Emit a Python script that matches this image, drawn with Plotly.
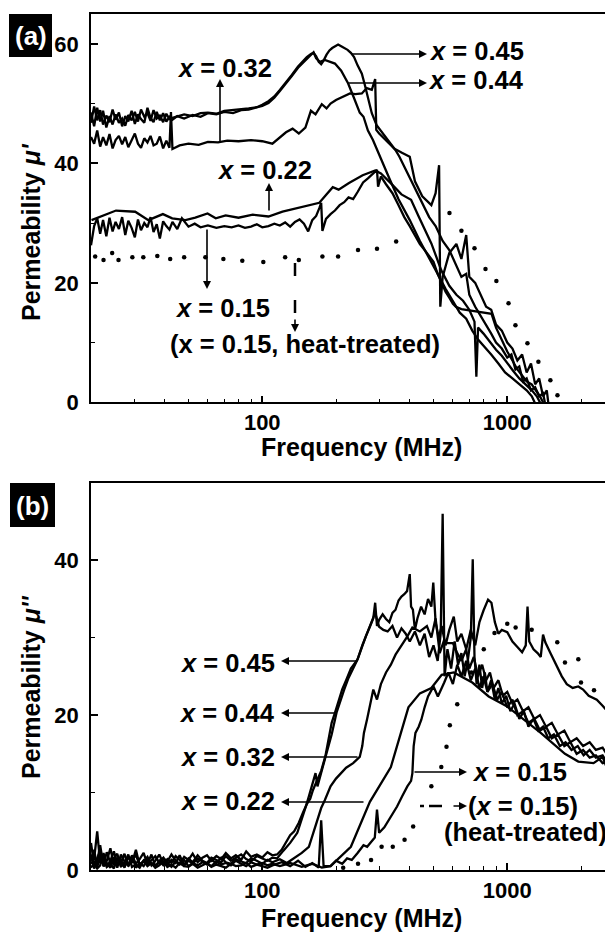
import math
import plotly.graph_objects as go

# ---------------- data (top panel: real part mu') ----------------
# common low-frequency grid for the noisy part of the mu' curves
TF = [20, 20.6, 21.2, 21.8, 22.4, 23.1, 23.8, 24.5, 25.2, 26, 26.8, 27.6, 28.4, 29.3,
      30.2, 31.1, 32, 33, 34, 35, 36, 37.1, 38.2, 39.4, 40.6, 41.8]

re45_f = TF + [43, 45, 48, 52, 56, 60, 65, 70, 76, 82, 88, 95, 100, 106, 112, 118, 125, 132, 140, 146,
               152, 158, 162, 166, 170, 174, 178, 183, 188, 193, 198, 204, 210, 216, 223, 230, 237, 245, 255, 262,
               270, 280, 293, 311, 330, 350, 363, 390, 420, 450, 480, 510, 545, 580, 620, 650, 680,
               700, 740, 780, 820, 860, 900, 950, 1000, 1040, 1080, 1120, 1160, 1200, 1250, 1300, 1350, 1400, 1440]
re45_v = [48.5, 46.2, 49.3, 47.0, 48.8, 46.0, 47.9, 46.5, 48.2, 46.8, 47.5, 46.3, 48.1, 47.2, 48.6, 47.0,
          49.0, 47.8, 48.4, 47.1, 48.9, 47.5, 48.0, 46.9, 48.3, 47.4,
          47.6, 47.8, 48.2, 47.9, 48.4, 48.5, 48.3, 48.8, 48.9, 49.0,
          49.2, 49.4, 49.8, 50.4, 51.2, 52.3, 53.5, 54.8, 56.2, 57.0,
          57.8, 58.3, 58.5, 57.9, 57.0, 56.6, 57.2, 58.2, 58.9, 59.3,
          59.6, 59.9, 59.6, 59.3, 59.0, 58.5, 57.8, 56.4, 55.0, 53.2,
          51.0, 48.4, 46.4, 45.0, 43.5, 42.2, 41.1,
          38.5, 36.0, 33.5, 31.0, 29.5, 27.0, 25.5, 23.0, 21.0, 21.5,
          18.0, 16.0, 14.5, 13.0, 11.5, 10.0, 9.0, 7.5, 8.0, 5.5,
          6.0, 3.5, 4.0, 2.0, 2.5, 1.0, 1.5, -1.0]

re44_f = TF + [43, 45, 48, 52, 56, 60, 65, 70, 76, 82, 88, 95, 100, 106, 112, 118, 125, 132, 140, 146,
               152, 158, 162, 166, 172, 180, 190, 198, 210, 224, 236, 250, 259, 270, 283, 302,
               330, 360, 400, 440, 480, 520, 560, 600, 640, 680, 720, 760, 800, 860, 920, 980,
               1050, 1120, 1200, 1260, 1310]
re44_v = [46.8, 49.5, 47.2, 48.9, 46.5, 48.0, 46.9, 49.0, 47.3, 48.5, 46.2, 47.9, 47.0, 48.8, 46.6, 48.2,
          47.4, 46.8, 49.3, 47.6, 46.9, 48.6, 47.2, 48.4, 47.0, 47.8,
          47.3, 47.9, 47.5, 48.1, 47.8, 48.4, 48.2, 48.6, 48.4, 48.9,
          49.0, 49.3, 49.6, 50.1, 51.0, 52.1, 53.3, 54.6, 56.0, 56.8,
          57.5, 58.2, 58.6, 57.6, 57.0, 57.3, 56.9, 56.7, 55.5, 53.4,
          51.1, 48.5, 47.8, 45.5, 43.9, 41.1,
          37.5, 34.0, 30.5, 27.0, 24.0, 21.5, 19.0, 17.0, 15.0, 14.0,
          12.0, 10.5, 9.5, 8.0, 6.5, 5.0, 4.0, 3.0, 2.0, 1.0, -0.5]

re32_f = TF + [42.4, 43, 46, 50, 55, 60, 66, 72, 80, 90, 100, 110, 118, 125, 133, 141, 150, 158, 165, 175,
               183, 190, 200, 212, 228, 240, 255, 267, 280, 289, 292, 300, 320, 345, 370, 400, 420, 450, 490, 510,
               527, 533, 545, 580, 620, 650, 680, 700, 740, 780, 820, 860, 900, 950, 1000, 1050, 1100, 1150,
               1200, 1250, 1300, 1350, 1400, 1450, 1480]
re32_v = [44.4, 43.3, 45.5, 42.8, 44.4, 43.0, 44.9, 42.5, 43.9, 44.6, 43.2, 44.4, 42.7, 43.9, 45.0, 43.3,
          42.6, 44.2, 43.5, 44.6, 43.0, 43.3, 44.5, 42.5, 43.8, 42.6,
          48.6, 42.4, 43.0, 43.3, 43.1, 43.6, 43.5, 43.8, 43.7, 43.9,
          43.7, 43.3, 44.4, 45.2, 45.8, 45.0, 46.0, 48.8, 48.2, 49.9,
          49.2, 50.0, 50.6, 51.1, 51.7, 51.6, 51.7, 52.6, 52.3, 54.1,
          45.6, 45.0, 43.8, 42.5, 41.8, 41.1, 37.0, 34.5, 33.0, 35.0,
          39.7, 16.0, 21.0, 25.0, 26.5, 24.0, 28.0, 21.0, 20.0, 18.0,
          16.0, 15.5, 13.0, 12.0, 10.0, 9.0, 7.0, 8.0, 5.0, 6.5,
          3.0, 4.0, 1.0, 2.0, -1.0]

re22_f = [20.1, 22.9, 25.3, 30.3, 34.3, 39.3, 42.9, 48.6, 53.3, 59.8, 64.6, 70.9, 80.0, 91.5, 106, 121,
          141, 171, 182, 194, 205, 226, 257, 289, 305, 320, 336, 370, 405, 435, 470, 490, 538, 580,
          620, 660, 700, 735, 748, 760, 800, 850, 900, 950, 1000, 1060, 1120, 1200, 1260, 1320, 1380]
re22_v = [30.5, 31.4, 32.1, 31.9, 30.5, 31.5, 30.8, 30.5, 30.9, 31.6, 30.8, 31.3, 30.9, 31.4, 31.1, 31.9,
          32.6, 33.4, 34.7, 36.0, 35.6, 36.7, 38.0, 38.8, 38.3, 37.5, 36.6, 34.8, 33.9, 31.1, 28.0, 26.6,
          22.1, 19.5, 18.0, 17.0, 15.5, 13.5, 4.3, 12.5, 11.5, 10.0, 8.8, 7.8, 6.5, 5.2, 4.0, 2.8, 2.0,
          1.0, -0.5]

re15_f = TF + [43, 45, 47, 50, 53, 56, 60, 65, 70, 75, 80, 85, 90, 95, 100, 106, 112, 118, 124, 130,
               136, 142, 148, 154, 160, 166, 171, 174, 176, 182, 190, 198, 207, 216, 225, 235, 245, 258, 270, 282,
               294, 297, 305, 320, 340, 360, 380, 400, 420, 440, 460, 480, 500, 520, 540, 560, 580, 600, 617, 650,
               700, 760, 810, 863, 900, 950, 1000, 1050, 1100, 1150, 1200, 1258, 1310, 1360, 1420]
re15_v = [26.3, 29.5, 30.8, 28.2, 30.5, 27.8, 30.9, 28.6, 30.2, 29.0, 31.0, 28.0, 30.4, 29.2, 27.6, 30.6,
          28.8, 30.0, 29.3, 31.0, 28.5, 29.8, 27.4, 30.3, 29.5, 28.9,
          30.2, 29.0, 30.8, 29.4, 29.9, 29.3, 29.6, 29.2, 29.5, 29.3,
          29.6, 29.2, 29.4, 29.8, 29.3, 29.5, 29.9, 29.6, 30.1, 29.4,
          30.2, 30.6, 29.9, 28.6, 30.5, 31.2, 32.5, 33.4, 28.7, 30.7,
          31.5, 32.1, 33.0, 33.5, 34.3, 34.0, 35.2, 36.8, 37.5, 38.3,
          38.9, 36.1, 37.8, 36.5, 35.0, 33.0, 31.0, 29.5, 28.0, 26.5,
          25.5, 24.5, 23.5, 21.5, 20.0, 18.5, 17.5, 16.5, 16.0, 15.6,
          15.4, 15.2, 15.0, 14.8, 12.5, 10.5, 8.5, 7.0, 5.5, 4.5,
          3.5, 3.0, 2.0, 1.0, -0.5]

# heat-treated x = 0.15, drawn as dots
reht_f = [20.8, 22.5, 24.4, 25.9, 29.5, 32.7, 37.3, 42.1, 48.0, 58.6, 69.4, 82.9, 101, 124, 141, 176,
          204, 246, 294, 352, 581, 650, 735, 815, 903, 1012, 1080, 1209, 1340, 1500, 1603]
reht_v = [24.4, 23.8, 25.0, 23.8, 24.3, 24.3, 24.5, 24.0, 24.3, 24.3, 24.0, 23.7, 23.5, 24.3, 23.8, 24.4,
          24.4, 25.5, 25.7, 26.9, 31.7, 28.7, 25.8, 22.3, 20.3, 16.6, 12.9, 9.9, 6.8, 3.7, 1.2]

# ---------------- data (bottom panel: imaginary part mu'') ----------------
NF = [20, 20.6, 21.2, 21.8, 22.5, 23.2, 24, 24.8, 25.6, 26.5, 27.4, 28.4, 29.4, 30.5, 31.6, 32.8, 34,
      35.3, 36.6, 38, 39.5, 41, 42.6, 44.3, 46, 48, 50, 52, 54.5, 57, 59.5, 62, 65, 68, 71, 74.5, 78,
      82, 86, 90, 95, 100, 105, 110]

im45_f = NF + [115, 120, 124, 130, 135, 141, 147, 152, 157, 161, 167, 174, 181, 186, 192, 198, 205, 212,
               220, 230, 245, 255, 265, 275, 284, 289, 294, 300, 310, 320, 330, 340, 350, 360, 370, 380,
               390, 400, 405, 412, 420, 430, 445, 460, 475, 490, 499, 510, 525, 540, 560, 580, 605, 625,
               650, 680, 710, 740, 770, 800, 835, 862, 890, 920, 950, 1000, 1050, 1100, 1150, 1190, 1210,
               1230, 1280, 1330, 1370, 1400, 1430, 1500, 1580, 1670, 1750, 1850, 1950, 2040, 2150, 2320,
               2450, 2530, 2620, 2750]
im45_v = [1.2, 2.6, 0.4, 1.8, 0.7, 2.3, 0.9, 1.6, 0.3, 2.0, 1.1, 0.6, 1.9, 0.8, 1.4, 2.2, 0.7, 1.3, 1.8,
          0.9, 1.5, 1.1, 2.0, 1.2, 0.8, 1.7, 1.3, 2.1, 1.0, 1.6, 1.9, 1.2, 1.8, 1.4, 2.2, 1.5, 1.9, 1.3,
          2.4, 1.7, 2.0, 1.6, 2.3, 1.9,
          2.0, 2.6, 3.4, 4.5, 5.0, 6.1, 7.5, 8.5, 9.2, 10.3,
          11.5, 12.8, 14.7, 16.5, 19.0, 20.3, 21.8, 23.3, 24.5, 26.0,
          27.2, 28.8, 30.2, 31.4, 32.5, 34.5, 31.5, 32.3, 33.0, 32.4,
          32.0, 33.2, 33.6, 34.8, 35.3, 35.6, 36.0, 38.2, 34.0, 33.6,
          31.0, 32.5, 34.0, 33.0, 35.0, 34.0, 37.1, 32.0, 30.0, 31.5,
          29.0, 31.0, 32.7, 29.5, 30.5, 28.5, 31.0, 29.0, 32.0, 33.5,
          34.9, 34.5, 32.0, 30.5, 31.0, 30.7, 29.5, 28.8, 28.1, 29.0,
          34.0, 29.5, 28.5, 28.0, 27.5, 30.4, 29.4, 28.0, 26.5, 25.0,
          24.0, 23.5, 23.7, 23.3, 22.5, 22.0, 21.2, 20.7, 19.5, 18.0]

im44_f = NF + [115, 122, 130, 139, 145, 150, 155, 161, 165, 168, 174, 180, 186, 192, 201, 208, 216, 225,
               234, 245, 256, 268, 280, 289, 300, 312, 325, 340, 355, 370, 385, 400, 420, 440, 460, 480,
               500, 520, 535, 545, 555, 570, 590, 610, 630, 650, 670, 690, 710, 723, 735, 750, 770, 790,
               810, 830, 860, 890, 920, 950, 990, 1030, 1070, 1120, 1170, 1220, 1280, 1340, 1400, 1470,
               1550, 1640, 1730, 1830, 1940, 2050, 2170, 2300, 2450, 2600, 2750]
im44_v = [3.5, 0.6, 1.5, 2.4, 0.5, 1.2, 2.8, 0.6, 1.4, 0.9, 2.1, 0.5, 1.3, 1.9, 0.7, 1.1, 1.7, 0.6, 1.2,
          2.0, 0.8, 1.4, 0.9, 1.8, 1.3, 0.7, 1.5, 1.0, 1.9, 1.2, 0.9, 1.6, 1.3, 1.0, 1.8, 1.2, 1.6, 2.0,
          1.4, 1.1, 1.8, 1.5, 1.2, 1.6,
          1.5, 2.5, 3.5, 4.8, 6.5, 8.0, 9.5, 11.2, 12.5, 10.8,
          12.5, 14.2, 16.0, 17.5, 20.3, 21.8, 23.3, 24.8, 26.0, 27.2,
          29.0, 30.6, 32.0, 33.2, 31.4, 31.0, 30.8, 31.5, 30.0, 31.2,
          30.5, 29.5, 30.8, 29.0, 30.5, 27.5, 29.0, 27.0, 30.5, 46.0,
          25.0, 28.5, 26.0, 29.5, 26.5, 28.0, 25.0, 27.0, 30.0, 40.1,
          27.5, 24.0, 26.5, 23.5, 25.5, 23.0, 24.5, 22.0, 23.5, 21.5,
          22.5, 20.5, 21.5, 19.5, 20.5, 18.5, 19.5, 18.0, 18.5, 17.0,
          17.5, 16.0, 16.5, 15.5, 16.0, 14.8, 15.5, 14.5, 14.8, 13.5, 13.0]

im32_f = NF + [118, 126, 135, 145, 155, 162, 168, 174, 180, 190, 200, 209, 220, 235, 250, 256, 260, 268,
               276, 284, 294, 305, 320, 335, 350, 370, 390, 410, 440, 470, 490, 510, 530, 550, 570, 600,
               625, 650, 680, 700, 730, 760, 790, 820, 850, 880, 920, 960, 1000, 1050, 1100, 1160, 1220,
               1290, 1360, 1440, 1520, 1610, 1710, 1810, 1920, 2040, 2170, 2300, 2450, 2600, 2750]
im32_v = [0.8, 1.4, 5.0, 0.9, 1.6, 0.4, 1.2, 2.4, 0.8, 1.3, 0.3, 1.7, 0.9, 2.6, 0.6, 1.2, 0.8, 2.0, 0.5,
          1.1, 1.6, 0.7, 1.3, 0.9, 1.9, 0.6, 1.2, 0.8, 1.5, 1.1, 0.7, 1.3, 0.9, 1.6, 1.0, 0.8, 1.4, 1.1,
          0.9, 1.5, 1.2, 0.8, 1.3, 1.0,
          1.4, 0.9, 1.5, 2.2, 3.0, 5.0, 6.5, 8.0, 9.0, 10.8,
          11.8, 12.5, 13.2, 13.8, 14.6, 16.0, 17.7, 19.5, 21.5, 23.3,
          22.0, 24.0, 25.5, 26.5, 27.8, 28.9, 30.1, 31.3, 30.8, 31.5,
          30.0, 32.5, 28.0, 29.5, 29.3, 29.3, 28.0, 27.0, 28.5, 26.0,
          27.5, 25.0, 26.5, 24.5, 25.5, 23.5, 24.5, 22.5, 23.0, 21.5,
          22.0, 20.5, 21.0, 19.5, 20.0, 18.5, 19.0, 17.5, 18.0, 16.5,
          17.0, 16.0, 16.5, 15.5, 15.8, 14.5, 14.0]

im22_f = NF + [118, 130, 145, 160, 175, 190, 230, 275, 335, 395, 440, 490, 540, 605, 720, 840, 1000,
               1370, 1720, 1950, 2250, 2450, 2750]
im22_v = [2.0, 0.2, 1.1, 3.2, 0.5, 0.9, 0.3, 1.5, 2.1, 0.4, 1.0, 0.6, 1.8, 0.3, 0.9, 0.5, 1.3, 0.8, 0.4,
          1.2, 0.6, 0.9, 0.4, 1.1, 0.7, 1.3, 0.5, 0.9, 0.6, 1.0, 0.8, 0.5, 1.1, 0.7, 0.9, 0.6, 1.2, 0.8,
          0.5, 1.0, 0.7, 0.9, 0.6, 0.8,
          0.5, 0.9, 0.4, 0.8, 0.3, 0.5, 3.0, 8.8, 13.3, 21.0, 22.8, 23.5, 25.2, 25.5, 24.2, 22.4, 21.1,
          17.7, 15.0, 14.0, 13.8, 14.6, 10.5]

im15_f = NF + [120, 130, 140, 150, 160, 170, 174, 178, 190, 200, 212, 222, 232, 245, 259, 268, 280, 288,
               294, 300, 315, 330, 345, 355, 372, 391, 405, 410, 415, 422, 435, 446, 460, 475, 500, 521,
               553, 575, 600, 625, 650, 680, 710, 740, 770, 800, 830, 870, 910, 950, 1000, 1050, 1100,
               1160, 1220, 1290, 1360, 1440, 1520, 1610, 1710, 1810, 1920, 2040, 2170, 2300, 2450, 2600, 2750]
im15_v = [0.3, 0.9, 0.2, 0.6, 2.2, 0.4, 0.8, 0.2, 1.6, 0.5, 0.8, 2.0, 0.4, 0.7, 0.3, 1.2, 0.5, 0.9, 0.3,
          0.6, 1.1, 0.4, 0.7, 0.3, 0.9, 0.5, 0.4, 0.8, 0.3, 0.6, 0.9, 0.4, 0.7, 0.5, 0.3, 0.8, 0.5, 0.6,
          0.9, 0.4, 0.7, 0.5, 0.3, 0.6,
          1.0, 0.5, 1.2, 0.4, 0.9, 0.3, 6.4, 0.5, 0.5, 1.2,
          0.8, 1.5, 1.3, 2.2, 3.2, 3.0, 3.8, 4.2, 7.8, 4.8,
          5.5, 6.5, 7.5, 8.2, 9.5, 10.8, 11.5, 12.5, 16.0, 17.7,
          18.5, 19.4, 21.0, 22.4, 23.7, 22.4, 24.2, 25.5, 24.0, 26.5,
          25.0, 27.0, 24.5, 26.0, 23.5, 25.0, 23.0, 24.0, 22.0, 23.0,
          21.0, 22.0, 20.0, 20.5, 19.0, 19.5, 18.0, 18.5, 17.0, 17.5,
          16.0, 16.5, 15.0, 15.5, 14.5, 14.8, 13.8, 14.0, 13.5]

imht_f = [214, 246, 278, 307, 341, 381, 413, 490, 538, 565, 583, 625, 714, 802, 887, 1000, 1082, 1258,
          1600, 1720, 1950, 2000, 2260, 2560]
imht_v = [0.3, 0.8, 1.3, 3.0, 3.0, 3.9, 5.6, 10.8, 13.3, 15.9, 18.7, 21.4, 25.5, 28.5, 30.6, 31.8, 31.3,
          31.0, 29.4, 26.8, 27.2, 24.2, 23.2, 20.7]

# ---------------- figure ----------------
# the page body has an 8px margin, so the figure is drawn 8px smaller and
# every position below is given in window pixels
OFF = 8
W, H = 613 - OFF, 934 - OFF
L, T, B = 91 - OFF, 14 - OFF, H - (870 - OFF)
FONT = "Liberation Sans, Arial, sans-serif"


def px(x):
    return (x - OFF - L) / (W - L)


def py(y):
    return (H - B - (y - OFF)) / (H - T - B)


fig = go.Figure()
solid = dict(color="black", width=2.3)
for f, v in [(re45_f, re45_v), (re44_f, re44_v), (re32_f, re32_v), (re22_f, re22_v), (re15_f, re15_v)]:
    fig.add_trace(go.Scatter(x=f, y=v, mode="lines", line=solid, xaxis="x", yaxis="y", showlegend=False))
fig.add_trace(go.Scatter(x=reht_f, y=reht_v, mode="markers", marker=dict(color="black", size=4.5),
                         xaxis="x", yaxis="y", showlegend=False))
for f, v in [(im45_f, im45_v), (im44_f, im44_v), (im32_f, im32_v), (im22_f, im22_v), (im15_f, im15_v)]:
    fig.add_trace(go.Scatter(x=f, y=v, mode="lines", line=solid, xaxis="x2", yaxis="y2", showlegend=False))
fig.add_trace(go.Scatter(x=imht_f, y=imht_v, mode="markers", marker=dict(color="black", size=4.5),
                         xaxis="x2", yaxis="y2", showlegend=False))

xlo = math.log10(20)
xhi = xlo + (W - L) / 245.0
minor_x = [20, 30, 40, 50, 60, 70, 80, 90, 200, 300, 400, 500, 600, 700, 800, 900, 2000]
tickfont = dict(family=FONT, size=22, color="black", weight="bold")


def xaxis(anchor):
    return dict(type="log", range=[xlo, xhi], domain=[0, 1], anchor=anchor,
                tickvals=[100, 1000], ticktext=["100", "1000"],
                ticks="inside", ticklen=7, tickwidth=1.5, tickcolor="black",
                showline=True, linecolor="black", linewidth=1.5, mirror=True,
                showgrid=False, zeroline=False, tickfont=tickfont, ticklabelstandoff=0,
                minor=dict(tickvals=minor_x, ticks="inside", ticklen=4, tickwidth=1.2,
                           tickcolor="black", showgrid=False))


def yaxis(anchor, dom, top, major, minor):
    return dict(range=[0, top], domain=dom, anchor=anchor, tickvals=major,
                ticks="inside", ticklen=7, tickwidth=1.5, tickcolor="black",
                showline=True, linecolor="black", linewidth=1.5,
                showgrid=False, zeroline=False, tickfont=tickfont, ticklabelstandoff=6,
                minor=dict(tickvals=minor, ticks="inside", ticklen=4, tickwidth=1.2,
                           tickcolor="black", showgrid=False))


fig.update_layout(
    width=W, height=H, margin=dict(l=L, r=0, t=T, b=B),
    paper_bgcolor="white", plot_bgcolor="white",
    font=dict(family=FONT, color="black"),
    xaxis=xaxis("y"), yaxis=yaxis("x", [py(402.3), 1], 65, [0, 20, 40, 60], [10, 30, 50]),
    xaxis2=xaxis("y2"), yaxis2=yaxis("x2", [0, py(482.7)], 50, [0, 20, 40], [10, 30]),
)

ann = []


def text(x, y, s, size=25.5, color="black", angle=0):
    ann.append(dict(x=px(x), y=py(y), xref="paper", yref="paper", text=s, showarrow=False,
                    font=dict(family=FONT, size=size, color=color, weight="bold"),
                    xanchor="center", yanchor="middle", textangle=angle))


def arrow(x0, y0, x1, y1):
    # tail (x0, y0) -> tip (x1, y1), window pixels
    ann.append(dict(x=px(x1), y=py(y1), xref="paper", yref="paper", text="", showarrow=True,
                    ax=x0 - x1, ay=y0 - y1, arrowhead=2, arrowsize=1, arrowwidth=1.6,
                    arrowcolor="black"))


shapes = []


def seg(x0, y0, x1, y1, w=1.8):
    shapes.append(dict(type="line", xref="paper", yref="paper", x0=px(x0), y0=py(y0),
                       x1=px(x1), y1=py(y1), line=dict(color="black", width=w)))


# axis titles
text(361, 447, "Frequency (MHz)", 25)
text(361, 918, "Frequency (MHz)", 25)
text(31, 232, "Permeability <i>\u03bc'</i>", 25, angle=-90)
text(31, 687, "Permeability <i>\u03bc''</i>", 25, angle=-90)

# panel labels
for (x0, y0, x1, y1, s) in [(9, 14, 52, 57, "(a)"), (10, 483, 55, 527, "(b)")]:
    shapes.append(dict(type="rect", xref="paper", yref="paper", x0=px(x0), x1=px(x1), y0=py(y1), y1=py(y0),
                       fillcolor="black", line=dict(width=0)))
    text((x0 + x1) / 2, (y0 + y1) / 2 + 1, s, 26, color="white")

# top panel labels and arrows
text(476, 51, "<i>x</i> = 0.45")
text(476, 80, "<i>x</i> = 0.44")
text(224, 68, "<i>x</i> = 0.32")
text(264, 170, "<i>x</i> = 0.22")
text(222, 308, "<i>x</i> = 0.15")
text(305, 344, "(x = 0.15, heat-treated)")
arrow(350, 54, 427, 54)
arrow(347, 83, 427, 83)
arrow(220, 143, 220, 79)
arrow(269, 212, 269, 183)
arrow(207, 228, 207, 289)
seg(295, 263, 295, 276, 2.5)
seg(295, 300, 295, 313, 2.5)
arrow(295, 318, 295, 332)

# bottom panel labels and arrows
text(227, 663, "<i>x</i> = 0.45")
text(227, 713, "<i>x</i> = 0.44")
text(227, 757, "<i>x</i> = 0.32")
text(227, 801, "<i>x</i> = 0.22")
text(519, 772, "<i>x</i> = 0.15")
text(523, 806, "(<i>x</i> = 0.15)")
text(525, 832, "(heat-treated)")
arrow(359, 661, 281, 661)
arrow(336, 713, 281, 713)
arrow(359, 757, 281, 757)
arrow(365, 802, 281, 802)
arrow(413, 772, 467, 772)
seg(420, 806, 424, 806, 2.5)
seg(429, 806, 442, 806, 2.5)
arrow(452, 806, 467, 806)

fig.update_layout(annotations=ann, shapes=shapes)
fig.write_html("out.html")
